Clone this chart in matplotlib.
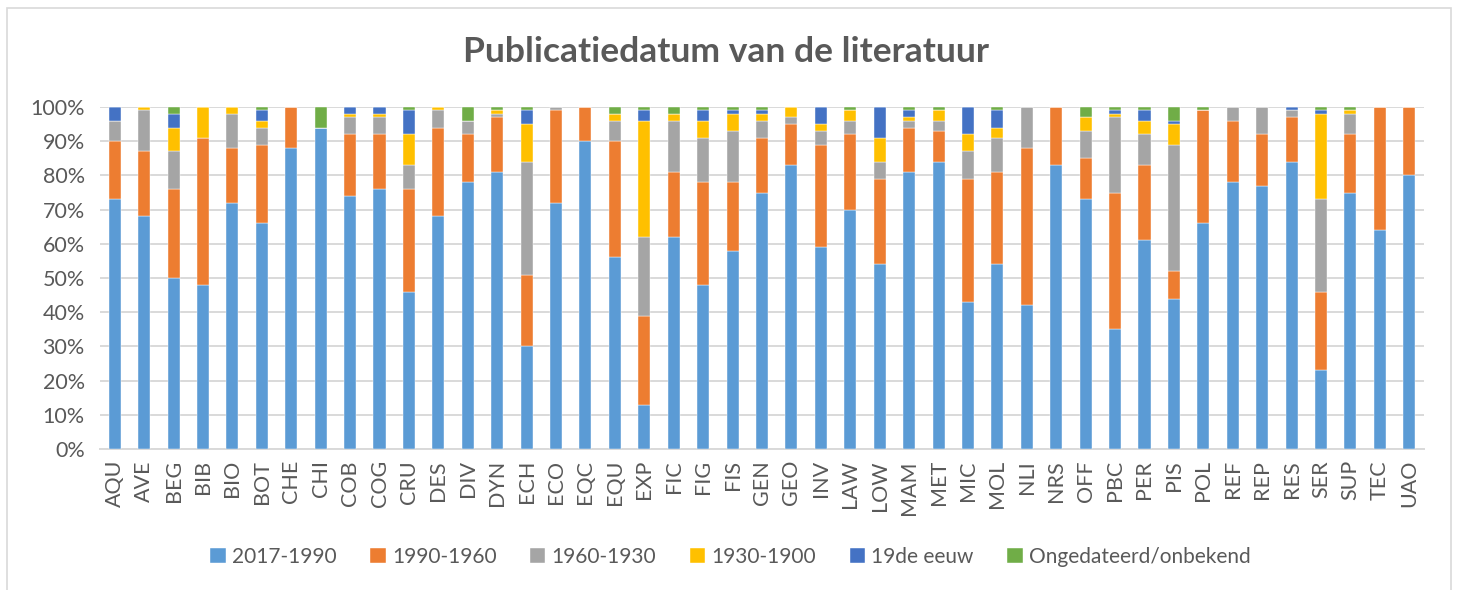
import matplotlib.pyplot as plt
import matplotlib.patches as mpatches
import numpy as np

plt.rcParams['font.family'] = ['Lato', 'DejaVu Sans']

categories = ['AQU', 'AVE', 'BEG', 'BIB', 'BIO', 'BOT', 'CHE', 'CHI', 'COB', 'COG',
              'CRU', 'DES', 'DIV', 'DYN', 'ECH', 'ECO', 'EQC', 'EQU', 'EXP', 'FIC',
              'FIG', 'FIS', 'GEN', 'GEO', 'INV', 'LAW', 'LOW', 'MAM', 'MET', 'MIC',
              'MOL', 'NLI', 'NRS', 'OFF', 'PBC', 'PER', 'PIS', 'POL', 'REF', 'REP',
              'RES', 'SER', 'SUP', 'TEC', 'UAO']

p2017_1990 = [73, 68, 50, 48, 72, 66, 88, 94, 74, 76, 46, 68, 78, 81, 30, 72, 90, 56, 13, 62,
              48, 58, 75, 83, 59, 70, 54, 81, 84, 43, 54, 42, 83, 73, 35, 61, 44, 66, 78, 77,
              84, 23, 75, 64, 80]
p1990_1960 = [17, 19, 26, 43, 16, 23, 12, 0, 18, 16, 30, 26, 14, 16, 21, 27, 10, 34, 26, 19,
              30, 20, 16, 12, 30, 22, 25, 13, 9, 36, 27, 46, 17, 12, 40, 22, 8, 33, 18, 15,
              13, 23, 17, 36, 20]
p1960_1930 = [6, 12, 11, 0, 10, 5, 0, 0, 5, 5, 7, 5, 4, 1, 33, 1, 0, 6, 23, 15,
              13, 15, 5, 2, 4, 4, 5, 2, 3, 8, 10, 12, 0, 8, 22, 9, 37, 0, 4, 8,
              2, 27, 6, 0, 0]
p1930_1900 = [0, 1, 7, 9, 2, 2, 0, 0, 1, 1, 9, 1, 0, 1, 11, 0, 0, 2, 34, 2,
              5, 5, 2, 3, 2, 3, 7, 1, 3, 5, 3, 0, 0, 4, 1, 4, 6, 0, 0, 0,
              0, 25, 1, 0, 0]
p19de_eeuw = [4, 0, 4, 0, 0, 3, 0, 0, 2, 2, 7, 0, 0, 0, 4, 0, 0, 0, 3, 0,
              3, 1, 1, 0, 5, 0, 9, 2, 0, 8, 5, 0, 0, 0, 1, 3, 1, 0, 0, 0,
              1, 1, 0, 0, 0]
p_onbekend = [0, 0, 2, 0, 0, 1, 0, 6, 0, 0, 1, 0, 4, 1, 1, 0, 0, 2, 1, 2,
              1, 1, 1, 0, 0, 1, 0, 1, 1, 0, 1, 0, 0, 3, 1, 1, 4, 1, 0, 0,
              0, 1, 1, 0, 0]

series_names = ['2017-1990', '1990-1960', '1960-1930', '1930-1900', '19de eeuw',
                'Ongedateerd/onbekend']
series = [p2017_1990, p1990_1960, p1960_1930, p1930_1900, p19de_eeuw, p_onbekend]
colors = ['#5B9BD5', '#ED7D31', '#A5A5A5', '#FFC000', '#4472C4', '#70AD47']
text_col = '#595959'

fig = plt.figure(figsize=(14.58, 5.9), dpi=100)
ax = fig.add_axes([100 / 1458, 1 - 449 / 590, 1324 / 1458, 342 / 590])

x = np.arange(len(categories))
bottom = np.zeros(len(categories))
for name, vals, col in zip(series_names, series, colors):
    v = np.array(vals, dtype=float)
    ax.bar(x, v, 0.41, bottom=bottom, color=col, label=name, zorder=3,
           edgecolor='white', linewidth=0.3)
    bottom += v

ax.set_xlim(-0.5, len(categories) - 0.5)
ax.set_ylim(0, 100)
ax.set_yticks(np.arange(0, 101, 10))
ax.set_yticklabels([f'{t}%' for t in range(0, 101, 10)])
ax.set_xticks(x)
ax.set_xticklabels(categories, rotation=90)
ax.tick_params(axis='both', length=0, colors=text_col)
ax.tick_params(axis='y', pad=11, labelsize=15.5)
ax.tick_params(axis='x', pad=8, labelsize=15.5)
ax.grid(axis='y', color='#D9D9D9', linewidth=1.4, zorder=0)
for s in ['top', 'right', 'left']:
    ax.spines[s].set_visible(False)
ax.spines['bottom'].set_color('#D9D9D9')
ax.spines['bottom'].set_linewidth(1.4)

fig.text(0.498, 1 - 52 / 590, 'Publicatiedatum van de literatuur', ha='center', va='center',
         fontsize=25.5, fontweight='bold', color=text_col)

fig.legend(loc='center', bbox_to_anchor=(0.501, 1 - 557 / 590), ncol=6, frameon=False,
           fontsize=15, labelcolor=text_col, handlelength=0.75, handleheight=0.75,
           handletextpad=0.3, columnspacing=1.6)

fig.patches.append(mpatches.Rectangle((7 / 1458, -0.05), 1444 / 1458, 1.05 - 8 / 590,
                                      transform=fig.transFigure, fill=False,
                                      edgecolor='#D9D9D9', linewidth=1.2))

fig.savefig('out.png', dpi=100)
